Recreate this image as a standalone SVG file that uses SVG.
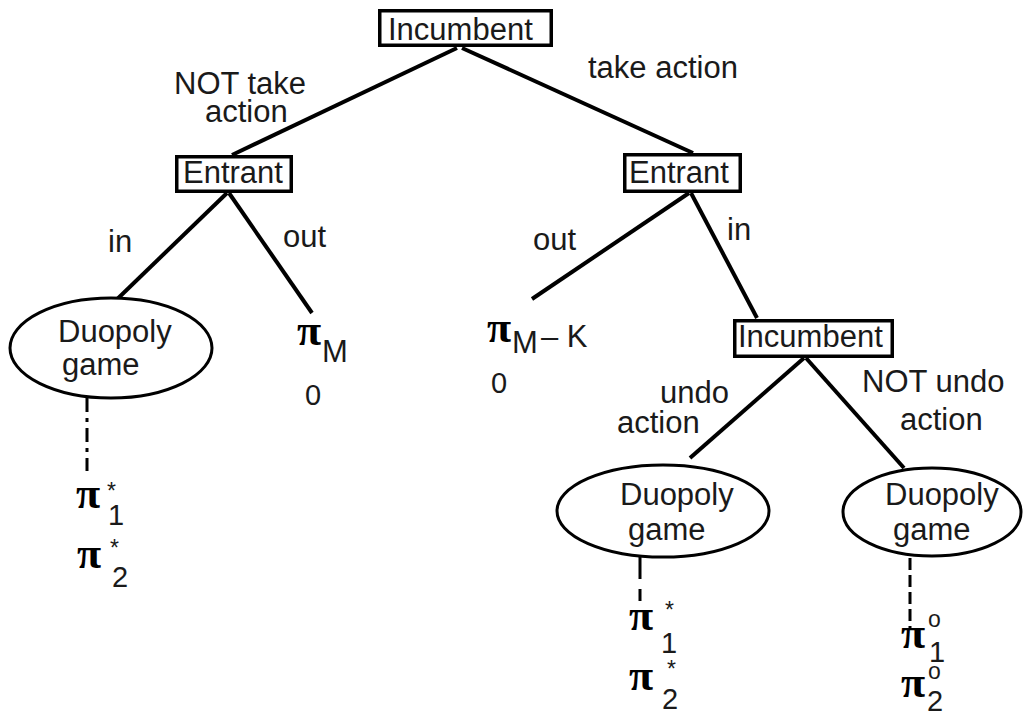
<svg xmlns="http://www.w3.org/2000/svg" width="1028" height="714" viewBox="0 0 1028 714">
  <style>
    .box { fill: #fff; stroke: #000; stroke-width: 3.5; }
    .oval { fill: #fff; stroke: #000; stroke-width: 3; }
    .edge { stroke: #000; stroke-width: 4; fill: none; }
    .dash { stroke: #000; stroke-width: 3; fill: none; }
    .t { font-family: "Liberation Sans", Arial, sans-serif; font-size: 31px; fill: #1a1a1a; }
    .pi { font-family: "Liberation Serif", "Times New Roman", serif; font-size: 44px; font-weight: bold; fill: #000; }
    .sub { font-family: "Liberation Sans", Arial, sans-serif; font-size: 29px; fill: #1a1a1a; }
    .sup { font-family: "Liberation Sans", Arial, sans-serif; font-size: 23px; fill: #1a1a1a; }
  </style>

  <!-- tree edges -->
  <g id="connectors">
    <line class="edge" x1="457" y1="48" x2="232" y2="155"/>
    <line class="edge" x1="462" y1="48" x2="693" y2="153"/>
    <line class="edge" x1="227" y1="193" x2="108" y2="308"/>
    <line class="edge" x1="229" y1="193" x2="312" y2="313"/>
    <line class="edge" x1="689" y1="193" x2="532" y2="299"/>
    <line class="edge" x1="691" y1="193" x2="757" y2="318"/>
    <line class="edge" x1="804" y1="358" x2="690" y2="458"/>
    <line class="edge" x1="806" y1="358" x2="904" y2="468"/>
    <line class="dash" x1="87" y1="398" x2="87" y2="471" stroke-dasharray="14 6 4 6"/>
    <line class="dash" x1="640" y1="557" x2="640" y2="602" stroke-dasharray="22 10 12"/>
    <line class="dash" x1="910" y1="558" x2="910" y2="628" stroke-dasharray="12 5"/>

    <!-- branch labels -->
    <text class="t" x="174" y="94">NOT take</text>
    <text class="t" x="205" y="122">action</text>
    <text class="t" x="588" y="78">take action</text>
    <text class="t" x="108" y="252">in</text>
    <text class="t" x="283" y="247">out</text>
    <text class="t" x="533" y="250">out</text>
    <text class="t" x="727" y="240">in</text>
    <text class="t" x="660" y="403">undo</text>
    <text class="t" x="617" y="433">action</text>
    <text class="t" x="862" y="392">NOT undo</text>
    <text class="t" x="900" y="430">action</text>
  </g>

  <!-- decision nodes -->
  <g id="incumbent-root">
    <rect class="box" x="379.75" y="10.75" width="171.5" height="34.5"/>
    <text class="t" x="388" y="40">Incumbent</text>
  </g>
  <g id="entrant-left">
    <rect class="box" x="176.75" y="156.75" width="114.5" height="34.5"/>
    <text class="t" x="183" y="183">Entrant</text>
  </g>
  <g id="entrant-right">
    <rect class="box" x="624.75" y="154.75" width="115.5" height="36.5"/>
    <text class="t" x="629" y="183">Entrant</text>
  </g>
  <g id="incumbent-second">
    <rect class="box" x="734.75" y="320.75" width="157.5" height="35.5"/>
    <text class="t" x="738" y="347">Incumbent</text>
  </g>

  <!-- duopoly subgames -->
  <g id="duopoly-left">
    <ellipse class="oval" cx="111" cy="348" rx="101" ry="50"/>
    <text class="t" x="58" y="342">Duopoly</text>
    <text class="t" x="62" y="375">game</text>
  </g>
  <g id="duopoly-undo">
    <ellipse class="oval" cx="663" cy="511" rx="106" ry="46"/>
    <text class="t" x="620" y="505">Duopoly</text>
    <text class="t" x="628" y="540">game</text>
  </g>
  <g id="duopoly-keep">
    <ellipse class="oval" cx="932" cy="512" rx="89" ry="44"/>
    <text class="t" x="885" y="505">Duopoly</text>
    <text class="t" x="893" y="540">game</text>
  </g>

  <!-- payoffs -->
  <g id="payoff-monopoly">
    <text class="pi" x="297" y="345">π</text>
    <text class="t" x="322" y="362">M</text>
    <text class="sub" x="305" y="405">0</text>
  </g>
  <g id="payoff-monopoly-cost">
    <text class="pi" x="487" y="342">π</text>
    <text class="t" x="512" y="353">M</text>
    <text class="t" x="541" y="347">– K</text>
    <text class="sub" x="491" y="393">0</text>
  </g>
  <g id="payoff-left">
    <text class="pi" x="76" y="508">π</text>
    <text class="sup" x="107" y="499">*</text>
    <text class="sub" x="108" y="525">1</text>
    <text class="pi" x="77" y="568">π</text>
    <text class="sup" x="110" y="556">*</text>
    <text class="sub" x="112" y="587">2</text>
  </g>
  <g id="payoff-undo">
    <text class="pi" x="629" y="630">π</text>
    <text class="sup" x="665" y="618">*</text>
    <text class="sub" x="661" y="653">1</text>
    <text class="pi" x="629" y="690">π</text>
    <text class="sup" x="667" y="677">*</text>
    <text class="sub" x="662" y="709">2</text>
  </g>
  <g id="payoff-keep">
    <text class="pi" x="901" y="648">π</text>
    <text class="sup" x="928" y="627">o</text>
    <text class="sub" x="929" y="662">1</text>
    <text class="pi" x="901" y="697">π</text>
    <text class="sup" x="928" y="679">o</text>
    <text class="sub" x="927" y="711">2</text>
  </g>
</svg>
